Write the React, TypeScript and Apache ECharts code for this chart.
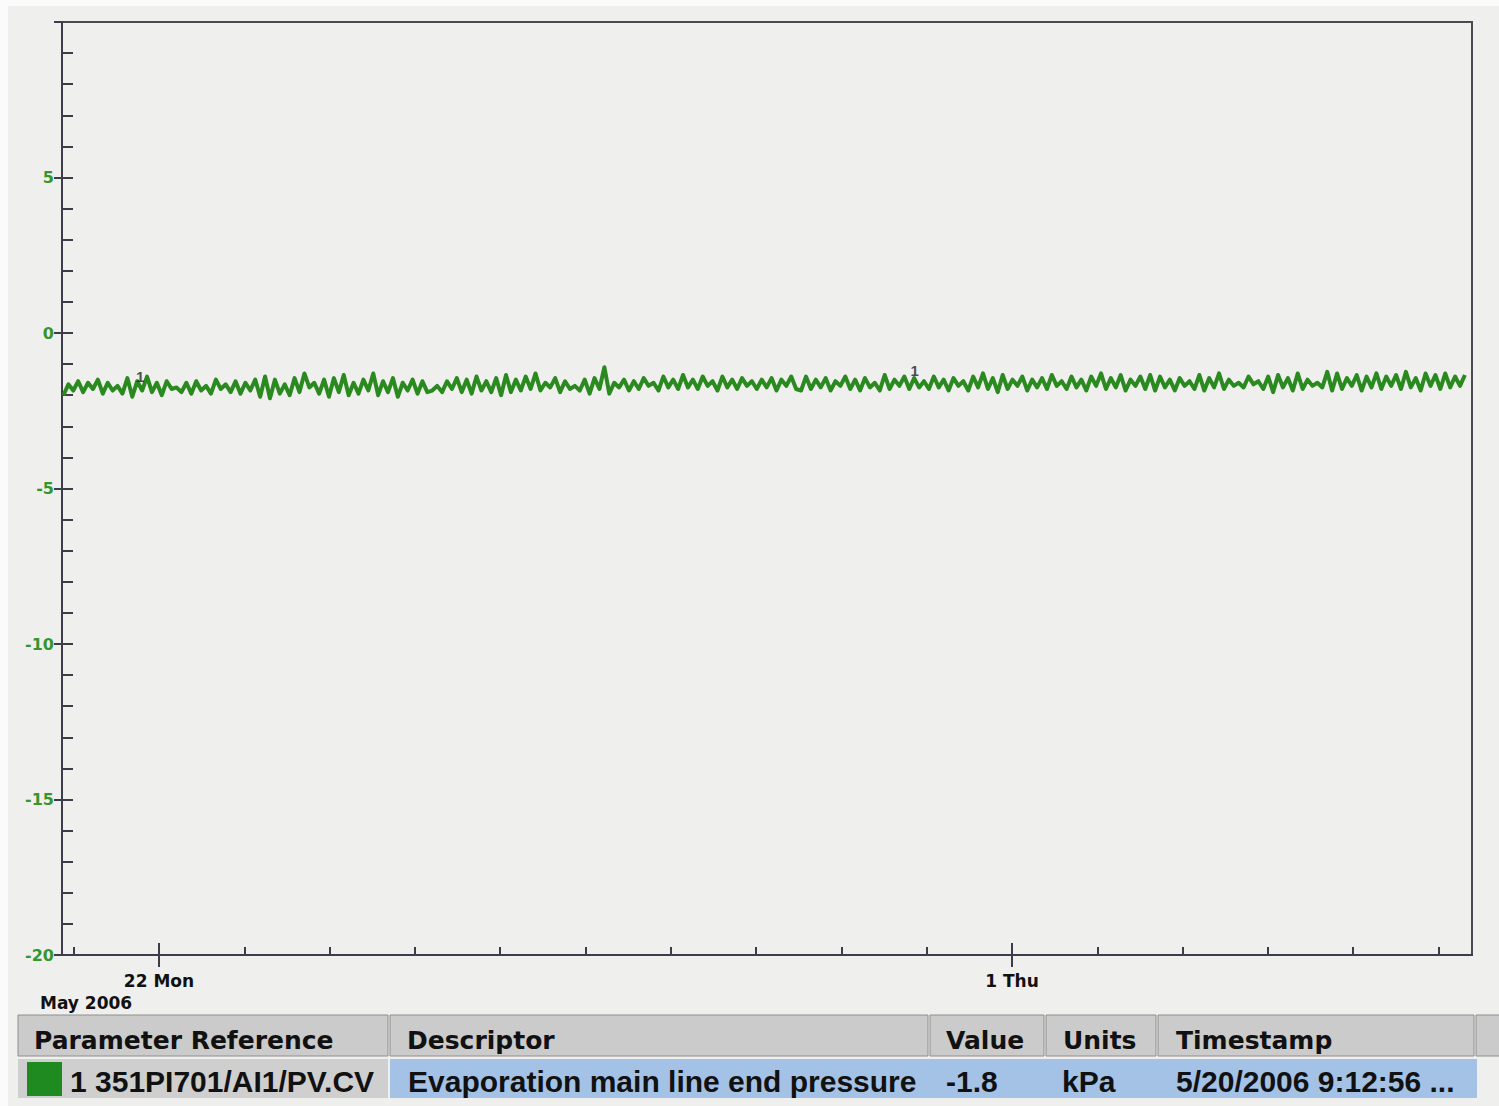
import React, { useEffect, useRef } from "react";
import * as echarts from "echarts";

// ---- data ----
const pressureValues: number[] = [
  -2.0, -1.65, -1.85, -1.55, -1.9, -1.6, -1.8, -1.5, -1.95, -1.6, -1.85, -1.7, -1.95, -1.45, -2.05, -1.55, -1.85, -1.4, -1.9, -1.6,
  -2.0, -1.55, -1.8, -1.75, -1.9, -1.6, -1.95, -1.55, -1.85, -1.7, -1.95, -1.5, -1.8, -1.65, -1.9, -1.55, -1.95, -1.6, -1.85, -1.5,
  -2.05, -1.4, -2.1, -1.5, -1.95, -1.65, -2.0, -1.45, -1.9, -1.3, -1.75, -1.6, -1.95, -1.5, -2.05, -1.45, -1.9, -1.35, -2.0, -1.6,
  -1.95, -1.5, -1.85, -1.3, -2.0, -1.55, -1.9, -1.45, -2.05, -1.6, -1.85, -1.5, -1.95, -1.55, -1.9,
  -1.85, -1.7, -1.9, -1.55, -1.8, -1.45, -1.9, -1.5, -1.95, -1.4, -1.85, -1.55, -1.9, -1.45, -2.0, -1.35, -1.9, -1.5, -1.85, -1.4,
  -1.8, -1.3, -1.85, -1.6, -1.75, -1.45, -1.9, -1.55, -1.8, -1.7, -1.85, -1.5, -1.95, -1.45, -1.8, -1.1, -1.95, -1.6, -1.75, -1.5,
  -1.85, -1.55, -1.8, -1.45, -1.7, -1.6, -1.85, -1.4, -1.75, -1.5, -1.8, -1.35, -1.75, -1.5, -1.8, -1.4, -1.7, -1.55, -1.85, -1.4,
  -1.75, -1.5, -1.8, -1.45, -1.7, -1.55, -1.8, -1.5, -1.75, -1.45, -1.85, -1.5, -1.7, -1.4, -1.8,
  -1.85, -1.4, -1.8, -1.5, -1.75, -1.45, -1.85, -1.55, -1.7, -1.4, -1.8, -1.5, -1.85, -1.45, -1.75, -1.6, -1.85, -1.35, -1.8, -1.5,
  -1.7, -1.4, -1.8, -1.45, -1.75, -1.55, -1.8, -1.4, -1.75, -1.5, -1.85, -1.45, -1.7, -1.55, -1.85, -1.4, -1.75, -1.3, -1.8, -1.45,
  -1.9, -1.35, -1.8, -1.5, -1.7, -1.4, -1.85, -1.5, -1.75, -1.45, -1.8, -1.35, -1.7, -1.55, -1.8, -1.4, -1.75, -1.5, -1.85, -1.4,
  -1.7, -1.3, -1.8, -1.45, -1.75, -1.35, -1.85, -1.5, -1.7, -1.4,
  -1.8, -1.35, -1.85, -1.4, -1.75, -1.5, -1.85, -1.45, -1.7, -1.55, -1.8, -1.35, -1.85, -1.45, -1.75, -1.3, -1.8, -1.5, -1.7, -1.6,
  -1.75, -1.4, -1.65, -1.55, -1.8, -1.4, -1.9, -1.35, -1.75, -1.45, -1.85, -1.3, -1.8, -1.5, -1.7, -1.6, -1.75, -1.25, -1.85, -1.3,
  -1.8, -1.45, -1.7, -1.35, -1.85, -1.4, -1.75, -1.3, -1.8, -1.4, -1.7, -1.35, -1.8, -1.25, -1.75, -1.45, -1.85, -1.3, -1.7, -1.35,
  -1.8, -1.3, -1.75, -1.4, -1.7, -1.35,
];
// sample window in "day of May 2006" units (32 = June 1)
const sampleStart = 20.88;
const sampleEnd = 37.31;
const axisDayMin = 20.863;
const axisDayMax = 37.393;
const dayTicks = [21, 22, 23, 24, 25, 26, 27, 28, 29, 30, 31, 32, 33, 34, 35, 36, 37];
const majorDays = [22, 32];
const dayLabelText = ["22 Mon", "1 Thu"];
const monthLabel = "May 2006";
const yMin = -20;
const yMax = 10;
const yLabeled = [-20, -15, -10, -5, 0, 5];
const traceMarkers = [
  [21.78, -1.4],
  [30.86, -1.2],
];
const tableHeaders = ["Parameter Reference", "Descriptor", "Value", "Units", "Timestamp"];
const tableRow = ["1 351PI701/AI1/PV.CV", "Evaporation main line end pressure", "-1.8", "kPa", "5/20/2006 9:12:56 ..."];

export default function App() {
  const ref = useRef<HTMLDivElement>(null);
  useEffect(() => {
    document.body.style.margin = "0";
    const chart = echarts.init(ref.current!, undefined, { renderer: "svg" });
    const n = pressureValues.length;
    const seriesData = pressureValues.map((v, i) => [
      sampleStart + ((sampleEnd - sampleStart) * i) / (n - 1),
      v,
    ]);
    const green = "#2a8a20";
    const axisDark = "#3c3c4a";
    const fontBase = '"Liberation Sans", Arial, sans-serif';
    const wideFont = '"DejaVu Sans", Verdana, sans-serif';

    const headerCols = [
      { x: 18, w: 370, tx: 34 },
      { x: 390, w: 538, tx: 407 },
      { x: 930, w: 114, tx: 946 },
      { x: 1046, w: 110, tx: 1063 },
      { x: 1158, w: 316, tx: 1176 },
    ];
    const graphics: any[] = [];
    graphics.push({ type: "rect", shape: { x: 0, y: 0, width: 8, height: 1106 }, style: { fill: "#fbfbfb" } });
    graphics.push({ type: "rect", shape: { x: 0, y: 0, width: 1499, height: 6 }, style: { fill: "#fbfbfb" } });
    headerCols.forEach((c, i) => {
      graphics.push({
        type: "rect",
        shape: { x: c.x, y: 1015, width: c.w, height: 41 },
        style: { fill: "#cbcbcb", stroke: "#8e8e8e", lineWidth: 1 },
      });
      graphics.push({
        type: "text",
        x: c.tx,
        y: 1040,
        style: {
          text: tableHeaders[i],
          fontFamily: wideFont,
          fontWeight: "bold",
          fontSize: 25,
          fill: "#111",
          verticalAlign: "middle",
        },
      });
    });
    graphics.push({
      type: "rect",
      shape: { x: 1476, y: 1015, width: 24, height: 41 },
      style: { fill: "#cbcbcb", stroke: "#8e8e8e", lineWidth: 1 },
    });
    graphics.push({
      type: "rect",
      shape: { x: 18, y: 1059, width: 370, height: 39 },
      style: { fill: "#cfcfcf" },
    });
    graphics.push({
      type: "rect",
      shape: { x: 390, y: 1059, width: 1087, height: 39 },
      style: { fill: "#a4c2e6" },
    });
    graphics.push({
      type: "rect",
      shape: { x: 27, y: 1062, width: 35, height: 34 },
      style: { fill: "#1f8a1f" },
    });
    const rowTx = [70, 408, 946, 1062, 1176];
    tableRow.forEach((t, i) => {
      graphics.push({
        type: "text",
        x: rowTx[i],
        y: 1081,
        style: {
          text: t,
          fontFamily: fontBase,
          fontWeight: "bold",
          fontSize: 30,
          fill: "#111",
          verticalAlign: "middle",
        },
      });
    });
    graphics.push({
      type: "text",
      x: 40,
      y: 1003,
      style: {
        text: monthLabel,
        fontFamily: wideFont,
        fontWeight: "bold",
        fontSize: 17,
        fill: "#111",
        verticalAlign: "middle",
      },
    });

    const baseX = {
      type: "value",
      position: "bottom",
      offset: 0,
      min: axisDayMin,
      max: axisDayMax,
      splitLine: { show: false },
    };
    const baseY = {
      type: "value",
      min: yMin,
      max: yMax,
      position: "left",
      offset: 0,
      splitLine: { show: false },
    };

    chart.setOption({
      animation: false,
      backgroundColor: "#efefed",
      grid: {
        left: 62,
        right: 27,
        top: 22,
        bottom: 151,
        show: true,
        borderColor: "#4a4a52",
        borderWidth: 2,
        backgroundColor: "transparent",
        outerBoundsMode: "none",
        containLabel: false,
      },
      xAxis: [
        {
          ...baseX,
          axisLine: { show: true, onZero: false, lineStyle: { color: axisDark, width: 2 } },
          axisTick: {
            show: true,
            inside: true,
            length: 8,
            customValues: dayTicks,
            lineStyle: { color: axisDark, width: 2 },
          },
          axisLabel: { show: false },
        },
        {
          ...baseX,
          axisLine: { show: false, onZero: false },
          axisTick: {
            show: true,
            inside: false,
            length: 12,
            customValues: majorDays,
            lineStyle: { color: axisDark, width: 2 },
          },
          axisLabel: {
            show: true,
            customValues: majorDays,
            margin: 17,
            formatter: (v: number) => dayLabelText[majorDays.indexOf(Math.round(v))] ?? "",
            color: "#111",
            fontWeight: "bold",
            fontSize: 17,
            fontFamily: wideFont,
          },
        },
        {
          ...baseX,
          axisLine: { show: false, onZero: false },
          axisTick: {
            show: true,
            inside: true,
            length: 12,
            customValues: majorDays,
            lineStyle: { color: axisDark, width: 2 },
          },
          axisLabel: { show: false },
        },
      ],
      yAxis: [
        {
          ...baseY,
          interval: 1,
          axisLine: { show: true, onZero: false, lineStyle: { color: axisDark, width: 2 } },
          axisTick: { show: true, inside: true, length: 11, lineStyle: { color: axisDark, width: 2 } },
          axisLabel: {
            show: true,
            margin: 8,
            showMaxLabel: false,
            formatter: (v: number) => (yLabeled.indexOf(v) >= 0 ? String(v) : ""),
            color: "#34962c",
            fontWeight: "bold",
            fontSize: 16,
            fontFamily: wideFont,
          },
        },
        {
          ...baseY,
          interval: 5,
          axisLine: { show: false, onZero: false },
          axisTick: { show: true, inside: false, length: 8, lineStyle: { color: axisDark, width: 2 } },
          axisLabel: { show: false },
        },
      ],
      series: [
        {
          type: "line",
          xAxisIndex: 0,
          yAxisIndex: 0,
          data: seriesData,
          showSymbol: false,
          symbol: "none",
          lineStyle: { color: green, width: 4, join: "round" },
        },
        {
          type: "scatter",
          xAxisIndex: 0,
          yAxisIndex: 0,
          data: traceMarkers,
          symbolSize: 0.1,
          itemStyle: { color: "transparent" },
          z: 5,
          label: {
            show: true,
            position: "inside",
            formatter: "1",
            color: "#222",
            fontWeight: "bold",
            fontSize: 15,
            fontFamily: fontBase,
          },
        },
      ],
      graphic: graphics,
    });
    return () => chart.dispose();
  }, []);
  return <div ref={ref} style={{ width: 1499, height: 1106 }} />;
}
